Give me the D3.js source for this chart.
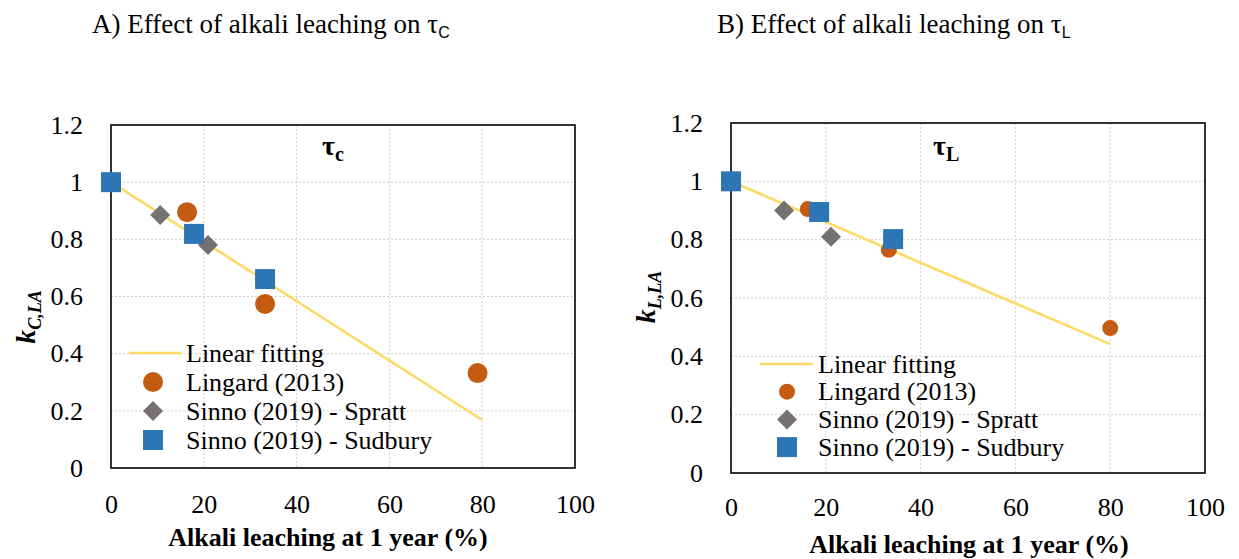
<!DOCTYPE html>
<html>
<head>
<meta charset="utf-8">
<script src="https://cdn.jsdelivr.net/npm/d3@7"></script>
</head>
<body style="margin:0">
<svg id="grafica" width="1239" height="559"></svg>
<script>
// ticks
var xTicks = [0, 20, 40, 60, 80, 100]
var yTicks = [0, 0.2, 0.4, 0.6, 0.8, 1, 1.2]

// panel A (tau C)
var lingardA_x = [16.4, 33.2, 79]
var lingardA_y = [0.895, 0.574, 0.332]
var sprattA_x = [10.6, 20.9]
var sprattA_y = [0.885, 0.78]
var sudburyA_x = [0, 17.9, 33.2]
var sudburyA_y = [1.0, 0.819, 0.661]
var fitA_x = [0, 80]
var fitA_y = [1.0, 0.168]

// panel B (tau L)
var lingardB_x = [16.2, 33.3, 80]
var lingardB_y = [0.905, 0.765, 0.497]
var sprattB_x = [11.2, 21.1]
var sprattB_y = [0.90, 0.81]
var sudburyB_x = [0, 18.6, 34.2]
var sudburyB_y = [1.0, 0.895, 0.802]
var fitB_x = [0, 80]
var fitB_y = [1.0, 0.442]

var legendLabels = ['Linear fitting', 'Lingard (2013)', 'Sinno (2019) - Spratt', 'Sinno (2019) - Sudbury']

var colores = {
    fit: '#FFD966',
    lingard: '#C55A11',
    spratt: '#767171',
    sudbury: '#2E75B6'
}
var serif = 'Liberation Serif'

function zip(xs, ys) {
    return xs.map(function (x, i) { return { x: x, y: ys[i] } })
}

var svg = d3.select('#grafica')

// all text in serif, set inline so nothing overrides it
function txt(sel, size) {
    return sel.attr('font-family', serif).style('font-family', serif).attr('font-size', size)
}

function panel(cfg) {
    var x = d3.scaleLinear().domain([0, 100]).range([cfg.left, cfg.right])
    var y = d3.scaleLinear().domain([0, 1.2]).range([cfg.bottom, cfg.top])
    var g = svg.append('g')

    // grid lines
    g.append('g')
        .selectAll('line.vg')
        .data(xTicks.slice(1, -1))
        .enter().append('line')
        .attr('x1', function (d) { return x(d) }).attr('x2', function (d) { return x(d) })
        .attr('y1', cfg.top).attr('y2', cfg.bottom)
        .attr('stroke', '#D0D0D0').attr('stroke-dasharray', '2,2')
    g.append('g')
        .selectAll('line.hg')
        .data(yTicks.slice(1, -1))
        .enter().append('line')
        .attr('y1', function (d) { return y(d) }).attr('y2', function (d) { return y(d) })
        .attr('x1', cfg.left).attr('x2', cfg.right)
        .attr('stroke', '#D0D0D0').attr('stroke-dasharray', '2,2')

    // axes (labels only)
    var ax = g.append('g')
        .attr('transform', 'translate(0,' + cfg.bottom + ')')
        .call(d3.axisBottom(x).tickValues(xTicks).tickSize(0).tickPadding(cfg.xPad).tickFormat(d3.format('d')))
    var ay = g.append('g')
        .attr('transform', 'translate(' + cfg.left + ',0)')
        .call(d3.axisLeft(y).tickValues(yTicks).tickSize(0).tickPadding(28).tickFormat(d3.format('~g')))
    ax.select('.domain').remove()
    ay.select('.domain').remove()
    txt(ax, 26)
    txt(ay, 26)
    txt(g.selectAll('.tick text'), 26).attr('fill', '#000')

    // frame
    g.append('rect')
        .attr('x', cfg.left).attr('y', cfg.top)
        .attr('width', cfg.right - cfg.left).attr('height', cfg.bottom - cfg.top)
        .attr('fill', 'none').attr('stroke', '#000').attr('stroke-width', 1.6)

    // linear fit
    g.append('path')
        .datum(zip(cfg.fitX, cfg.fitY))
        .attr('d', d3.line().x(function (d) { return x(d.x) }).y(function (d) { return y(d.y) }))
        .attr('fill', 'none').attr('stroke', colores.fit).attr('stroke-width', 2.6)

    var circ = d3.symbol().type(d3.symbolCircle).size(cfg.circleSize)
    var sq = d3.symbol().type(d3.symbolSquare).size(400)
    var dia = d3.symbol().type(d3.symbolSquare).size(200)

    g.selectAll('path.lin')
        .data(zip(cfg.linX, cfg.linY))
        .enter().append('path')
        .attr('d', circ)
        .attr('transform', function (d) { return 'translate(' + x(d.x) + ',' + y(d.y) + ')' })
        .attr('fill', colores.lingard)
    g.selectAll('path.spr')
        .data(zip(cfg.sprX, cfg.sprY))
        .enter().append('path')
        .attr('d', dia)
        .attr('transform', function (d) { return 'translate(' + x(d.x) + ',' + y(d.y) + ') rotate(45)' })
        .attr('fill', colores.spratt)
    g.selectAll('path.sud')
        .data(zip(cfg.sudX, cfg.sudY))
        .enter().append('path')
        .attr('d', sq)
        .attr('transform', function (d) { return 'translate(' + x(d.x) + ',' + y(d.y) + ')' })
        .attr('fill', colores.sudbury)

    // legend
    var lg = g.append('g')
    var rows = legendLabels.map(function (t, i) { return cfg.legY + i * cfg.legStep })
    lg.append('line')
        .attr('x1', cfg.legLine[0]).attr('x2', cfg.legLine[1])
        .attr('y1', rows[0]).attr('y2', rows[0])
        .attr('stroke', colores.fit).attr('stroke-width', 2.6)
    lg.append('path').attr('d', circ)
        .attr('transform', 'translate(' + cfg.legMark + ',' + rows[1] + ')')
        .attr('fill', colores.lingard)
    lg.append('path').attr('d', dia)
        .attr('transform', 'translate(' + cfg.legMark + ',' + rows[2] + ') rotate(45)')
        .attr('fill', colores.spratt)
    lg.append('path').attr('d', sq)
        .attr('transform', 'translate(' + cfg.legMark + ',' + rows[3] + ')')
        .attr('fill', colores.sudbury)
    txt(lg.selectAll('text')
        .data(legendLabels)
        .enter().append('text')
        .attr('x', cfg.legText)
        .attr('y', function (d, i) { return rows[i] })
        .attr('dy', '0.33em'), 26)
        .text(function (d) { return d })

    // tau label inside
    var tl = txt(g.append('text'), 28)
        .attr('x', cfg.tauX).attr('y', cfg.tauY)
        .attr('font-weight', 'bold')
    tl.append('tspan').text('τ')
    tl.append('tspan').attr('font-size', 20).attr('dy', 6).text(cfg.tauSub)

    // title
    var tt = txt(svg.append('text'), 27)
        .attr('x', cfg.titleX).attr('y', 33)
    tt.append('tspan').text(cfg.title)
    tt.append('tspan')
        .attr('font-family', 'Liberation Sans').style('font-family', 'Liberation Sans')
        .attr('font-size', 16).attr('dy', 5)
        .text(cfg.titleSub)

    // x axis title
    txt(svg.append('text'), 26)
        .attr('x', cfg.xtX).attr('y', cfg.xtY)
        .attr('text-anchor', 'middle')
        .attr('font-weight', 'bold')
        .text('Alkali leaching at 1 year (%)')

    // y axis title
    var yt = txt(svg.append('text'), 28)
        .attr('transform', 'translate(' + cfg.ytX + ',' + cfg.ytY + ') rotate(-90)')
        .attr('text-anchor', 'middle')
        .attr('font-weight', 'bold').attr('font-style', 'italic')
    yt.append('tspan').text('k')
    yt.append('tspan').attr('font-size', 18).attr('dy', 6).text(cfg.ySub)
}

panel({
    left: 111, right: 575, top: 125, bottom: 468, xPad: 27,
    fitX: fitA_x, fitY: fitA_y,
    linX: lingardA_x, linY: lingardA_y,
    sprX: sprattA_x, sprY: sprattA_y,
    sudX: sudburyA_x, sudY: sudburyA_y,
    circleSize: 314,
    legY: 353, legStep: 29, legLine: [129, 182], legMark: 153, legText: 186,
    tauX: 322, tauY: 155, tauSub: 'c',
    title: 'A) Effect of alkali leaching on τ', titleSub: 'C', titleX: 92,
    xtX: 328, xtY: 546,
    ytX: 35, ytY: 317, ySub: 'C,LA'
})

panel({
    left: 731, right: 1205, top: 123, bottom: 473, xPad: 25,
    fitX: fitB_x, fitY: fitB_y,
    linX: lingardB_x, linY: lingardB_y,
    sprX: sprattB_x, sprY: sprattB_y,
    sudX: sudburyB_x, sudY: sudburyB_y,
    circleSize: 201,
    legY: 364, legStep: 27.7, legLine: [760, 813], legMark: 787, legText: 818,
    tauX: 933, tauY: 155, tauSub: 'L',
    title: 'B) Effect of alkali leaching on τ', titleSub: 'L', titleX: 717,
    xtX: 969, xtY: 553,
    ytX: 655, ytY: 297, ySub: 'L,LA'
})
</script>
</body>
</html>
